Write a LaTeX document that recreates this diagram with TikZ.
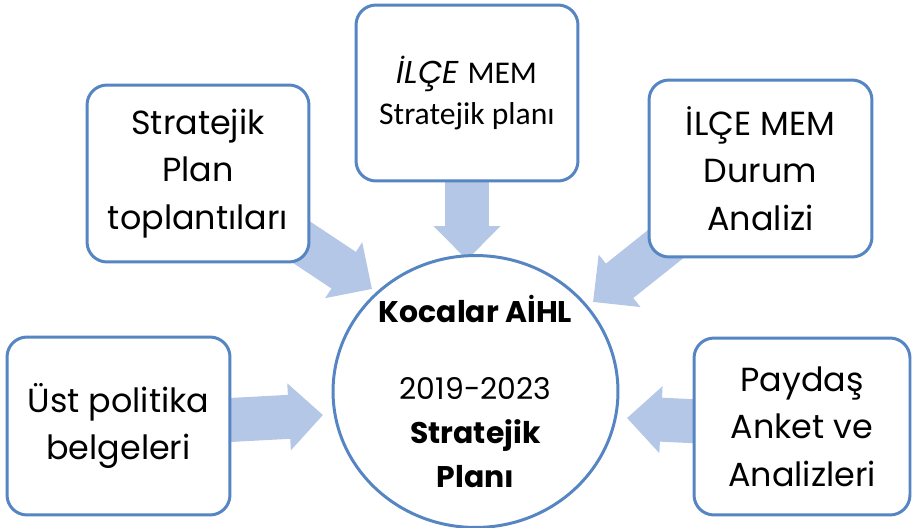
\documentclass[tikz,border=0pt]{standalone}
\usepackage{fontspec}
\setmainfont{Poppins}
\newfontfamily\calfont{Carlito}
\usetikzlibrary{arrows.meta,shapes.geometric,backgrounds}

\definecolor{edgeblue}{RGB}{85,133,195}
\definecolor{feedblue}{RGB}{180,199,231}

\tikzset{
    srcbox/.style={draw=edgeblue, line width=1.7pt, fill=white, rounded corners=0.4cm,
                   align=center, font=\fontsize{19}{27}\selectfont},
    feed/.style={feedblue, line width=0.88cm, -{Triangle[length=0.68cm,width=1.3cm]}}
}

\begin{document}
\begin{tikzpicture}[x=0.02cm, y=-0.02cm]
    \useasboundingbox (0, 0) rectangle (912, 527);

    \node [draw=edgeblue, line width=1.7pt, fill=white, ellipse, inner sep=0pt,
           minimum width=5.7cm, minimum height=5.22cm, align=center,
           font=\fontsize{17}{25}\selectfont] (hub) at (475.5, 391.5)
          {\bfseries Kocalar AİHL\\[0.66cm] 2019-2023\\ \bfseries Stratejik\\ \bfseries Planı};

    \node [srcbox, minimum width=4.44cm, minimum height=3.54cm] (plan) at (198, 173.5)
          {Stratejik\\ Plan\\ toplantıları};
    \node [srcbox, minimum width=4.44cm, minimum height=3.52cm, font=\fontsize{18}{23}\selectfont] (ilce) at (467, 93)
          {{\itshape İLÇE} \calfont MEM\\ \calfont Stratejik planı};
    \node [srcbox, minimum width=4.46cm, minimum height=3.54cm] (durum) at (760.5, 168.5)
          {İLÇE MEM\\ Durum\\ Analizi};
    \node [srcbox, minimum width=4.46cm, minimum height=3.56cm] (ust) at (118.5, 426)
          {Üst politika\\ belgeleri};
    \node [srcbox, minimum width=4.32cm, minimum height=3.54cm] (paydas) at (802, 426.5)
          {Paydaş\\ Anket ve\\ Analizleri};

    \coordinate (tplan) at (372, 289);
    \coordinate (tilce) at (467, 260);
    \coordinate (tdurum) at (593, 302);
    \coordinate (tust) at (323, 415);
    \coordinate (tpaydas) at (627, 418);

    \begin{pgfonlayer}{background}
        \draw [feed] (plan.center) -- (tplan);
        \draw [feed] (ilce.center) -- (tilce);
        \draw [feed] (durum.center) -- (tdurum);
        \draw [feed] (ust.center) -- (tust);
        \draw [feed] (paydas.center) -- (tpaydas);
    \end{pgfonlayer}
\end{tikzpicture}
\end{document}
